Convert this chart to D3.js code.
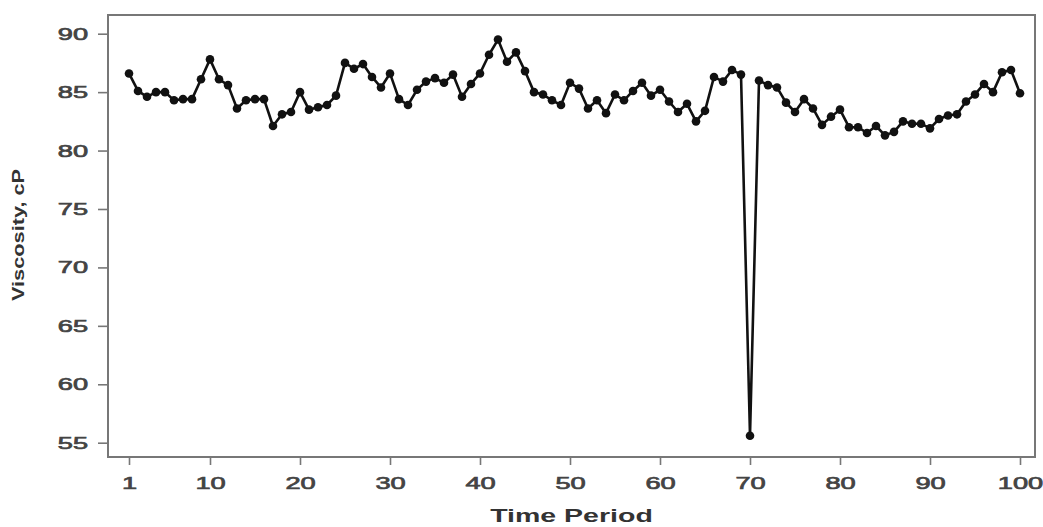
<!DOCTYPE html>
<html>
<head>
<meta charset="utf-8">
<script src="https://cdn.jsdelivr.net/npm/d3@7/dist/d3.min.js"></script>
<style>
  html, body { margin: 0; padding: 0; background: #fff; }
  svg { display: block; font-family: 'Liberation Sans', Arial, sans-serif; }
</style>
</head>
<body>
<div id="chart"></div>
<script>
// viscosity readings, time periods 1..100
const periods = d3.range(1, 101)
const viscosity = [
  86.6, 85.1, 84.6, 85.0, 85.0, 84.3, 84.4, 84.4, 86.1, 87.8,
  86.1, 85.6, 83.6, 84.3, 84.4, 84.4, 82.1, 83.1, 83.3, 85.0,
  83.5, 83.7, 83.9, 84.7, 87.5, 87.0, 87.4, 86.3, 85.4, 86.6,
  84.4, 83.9, 85.2, 85.9, 86.2, 85.8, 86.5, 84.6, 85.7, 86.6,
  88.2, 89.5, 87.6, 88.4, 86.8, 85.0, 84.8, 84.3, 83.9, 85.8,
  85.3, 83.6, 84.3, 83.2, 84.8, 84.3, 85.1, 85.8, 84.7, 85.2,
  84.2, 83.3, 84.0, 82.5, 83.4, 86.3, 85.9, 86.9, 86.5, 55.6,
  86.0, 85.6, 85.4, 84.1, 83.3, 84.4, 83.6, 82.2, 82.9, 83.5,
  82.0, 82.0, 81.5, 82.1, 81.3, 81.6, 82.5, 82.3, 82.3, 81.9,
  82.7, 83.0, 83.1, 84.2, 84.8, 85.7, 85.0, 86.7, 86.9, 84.9,
]
const xTicks = [1, 10, 20, 30, 40, 50, 60, 70, 80, 90, 100]
const yTicks = [55, 60, 65, 70, 75, 80, 85, 90]
const xTitle = 'Time Period'
const yTitle = 'Viscosity, cP'

const width = 1043
const height = 527
const frame = { left: 108, right: 1035, top: 15, bottom: 457 }
const stretch = 1.6 // the source figure is stretched sideways

const x = d3.scaleLinear().domain([1, 100]).range([129, 1020])
const y = d3.scaleLinear().domain([55, 90]).range([442.7, 33.7])

const svg = d3.select('#chart').append('svg').attr('width', width).attr('height', height)

// axes
const xAxis = d3.axisBottom(x).tickValues(xTicks).tickSize(8).tickPadding(12)
const yAxis = d3.axisLeft(y).tickValues(yTicks).tickSize(10).tickPadding(10)

const gx = svg
  .append('g')
  .attr('transform', `translate(0,${frame.bottom})`)
  .call(xAxis)
const gy = svg
  .append('g')
  .attr('transform', `translate(${frame.left},0)`)
  .call(yAxis)

for (const g of [gx, gy]) {
  g.select('.domain').remove()
  g.selectAll('.tick line').attr('stroke', '#777').attr('stroke-width', 1.6)
  g.selectAll('.tick text')
    .attr('fill', '#444')
    .attr('stroke', '#444')
    .attr('stroke-width', 0.7)
    .attr('font-size', 17)
}
gx.selectAll('.tick text').attr('transform', `scale(${stretch},1)`).attr('x', 0)
gy.selectAll('.tick text').attr('transform', `scale(${stretch},1)`).attr('x', -20 / stretch)

// frame
svg
  .append('rect')
  .attr('x', frame.left)
  .attr('y', frame.top)
  .attr('width', frame.right - frame.left)
  .attr('height', frame.bottom - frame.top)
  .attr('fill', 'none')
  .attr('stroke', '#777')
  .attr('stroke-width', 2)

// titles
svg
  .append('text')
  .attr('transform', `translate(${(frame.left + frame.right) / 2},522) scale(1.5,1)`)
  .attr('text-anchor', 'middle')
  .attr('font-size', 19)
  .attr('font-weight', 'bold')
  .attr('fill', '#333')
  .text(xTitle)

svg
  .append('text')
  .attr('transform', `translate(24,235) rotate(-90) scale(1.28,1)`)
  .attr('text-anchor', 'middle')
  .attr('font-size', 17)
  .attr('font-weight', 'bold')
  .attr('fill', '#333')
  .text(yTitle)

// series
const line = d3
  .line()
  .x((d, i) => x(periods[i]))
  .y((d) => y(d))

svg
  .append('path')
  .datum(viscosity)
  .attr('fill', 'none')
  .attr('stroke', '#111')
  .attr('stroke-width', 2.6)
  .attr('stroke-linejoin', 'round')
  .attr('d', line)

svg
  .append('g')
  .selectAll('circle')
  .data(viscosity)
  .enter()
  .append('circle')
  .attr('cx', (d, i) => x(periods[i]))
  .attr('cy', (d) => y(d))
  .attr('r', 4.3)
  .attr('fill', '#111')
</script>
</body>
</html>
